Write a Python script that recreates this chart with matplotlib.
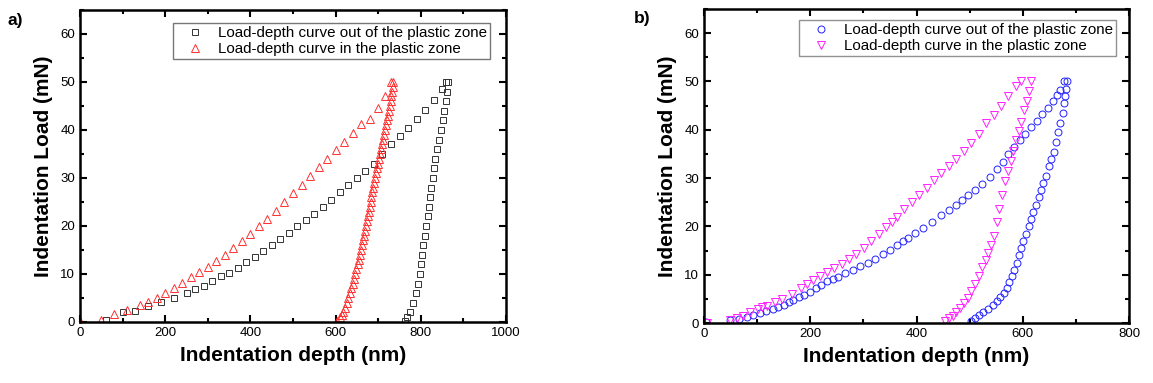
import matplotlib
matplotlib.use("Agg")
import matplotlib.pyplot as plt
from matplotlib.ticker import MultipleLocator

plt.rcParams['font.family'] = ['Liberation Sans', 'DejaVu Sans']

labels = ["Load-depth curve out of the plastic zone", "Load-depth curve in the plastic zone"]

# panel a) - out of plastic zone (black squares)
a_out_load_x = [60, 100, 130, 160, 190, 220, 250, 270, 290, 310, 330, 350, 370, 390, 410, 430, 450, 470,
                490, 510, 530, 550, 570, 590, 610, 630, 650, 670, 690, 710, 730, 750, 770, 790, 810, 830, 850, 860]
a_out_load_y = [0.5, 2, 2.2, 3.3, 4.2, 5, 6, 6.8, 7.6, 8.5, 9.5, 10.3, 11.3, 12.5, 13.6, 14.8, 16, 17.2,
                18.5, 20, 21.3, 22.6, 24, 25.5, 27, 28.5, 30, 31.5, 33, 35, 37, 38.8, 40.5, 42.3, 44.2, 46.2, 48.5, 50]
a_out_unl_x = [865, 862, 858, 854, 851, 848, 843, 838, 834, 831, 828, 825, 822, 819, 816, 813, 809, 806,
               803, 800, 797, 793, 788, 782, 775, 768, 763]
a_out_unl_y = [50, 48, 46, 44, 42, 40, 38, 36, 34, 32, 30, 28, 26, 24, 22, 20, 18, 16,
               14, 12, 10, 8, 6, 4, 2, 1, 0.3]

# panel a) - in plastic zone (red triangles)
a_in_load_x = [0, 50, 80, 110, 140, 160, 180, 200, 220, 240, 260, 280, 300, 320, 340, 360, 380, 400,
               420, 440, 460, 480, 500, 520, 540, 560, 580, 600, 620, 640, 660, 680, 700, 715, 730]
a_in_load_y = [0.3, 0.5, 1.6, 2.5, 3.5, 4.2, 5, 6, 7, 8.2, 9.3, 10.4, 11.5, 12.8, 14, 15.4, 16.9, 18.4,
               19.9, 21.5, 23.2, 25, 26.8, 28.6, 30.4, 32.2, 34, 35.8, 37.6, 39.4, 41.2, 42.3, 44.5, 47, 50]
a_in_unl_x = [735, 734, 733, 731, 730, 728, 726, 723, 720, 718, 715, 713, 711, 708, 706, 704, 702, 699,
              697, 694, 692, 690, 688, 686, 684, 682, 680, 678, 676, 674, 672, 670, 667, 665, 662, 660,
              657, 655, 652, 649, 646, 643, 640, 637, 634, 630, 627, 622, 618, 614, 610, 604]
a_in_unl_y = [50, 49, 48, 47, 46, 45, 44, 43, 42, 41, 40, 39, 38, 37, 36, 35, 34, 33,
              32, 31, 30, 29, 28, 27, 26, 25, 24, 23, 22, 21, 20, 19, 18, 17, 16, 15,
              14, 13, 12, 11, 10, 9, 8, 7, 6, 5, 4, 3, 2, 1.5, 1, 0.3]

# panel b) - out of plastic zone (blue circles)
b_out_load_x = [3, 49, 65, 80, 93, 105, 117, 129, 140, 150, 160, 168, 179, 189, 200, 210, 221, 231, 242,
                252, 266, 280, 294, 308, 322, 336, 350, 363, 374, 384, 398, 412, 430, 447, 461, 475, 486,
                496, 510, 524, 538, 552, 563, 573, 584, 594, 605, 615, 626, 636, 647, 657, 664, 671, 678]
b_out_load_y = [0.3, 0.6, 0.9, 1.2, 1.6, 2.1, 2.5, 3, 3.4, 3.8, 4.3, 4.8, 5.3, 5.8, 6.5, 7.2, 7.9, 8.6, 9.1,
                9.6, 10.3, 11, 11.7, 12.4, 13.3, 14.2, 15.2, 16.2, 16.9, 17.6, 18.6, 19.7, 21, 22.4, 23.4, 24.5, 25.4,
                26.4, 27.5, 28.7, 30.2, 31.9, 33.4, 35, 36.4, 37.8, 39.1, 40.5, 41.9, 43.3, 44.6, 46, 47.1, 48.3, 50]
b_out_unl_x = [683, 682, 680, 678, 675, 671, 667, 663, 658, 653, 649, 644, 639, 635, 630, 625, 620, 616,
               611, 606, 601, 597, 593, 589, 584, 580, 575, 570, 564, 558, 552, 544, 535, 526, 517, 510, 503]
b_out_unl_y = [50, 48.5, 47, 45.5, 43.5, 41.5, 39.5, 37.5, 35.5, 34, 32.5, 30.5, 29, 27.5, 26, 24.5, 23, 21.5,
               20, 18.5, 17, 15.5, 14, 12.5, 11, 9.8, 8.5, 7.3, 6.3, 5.4, 4.6, 3.7, 2.8, 2.2, 1.7, 1.1, 0.4]

# panel b) - in plastic zone (magenta down triangles)
b_in_load_x = [5, 49, 62, 73, 87, 101, 110, 119, 133, 147, 165, 182, 194, 206, 219, 231, 245, 259, 273,
               287, 301, 315, 329, 343, 353, 363, 377, 391, 405, 419, 433, 447, 461, 475, 489, 503, 517,
               531, 545, 559, 573, 587, 597]
b_in_load_y = [0, 0.6, 1.1, 1.5, 2.2, 3, 3.3, 3.6, 4.3, 5, 6.1, 7.3, 8.1, 9, 9.8, 10.5, 11.4, 12.2, 13.2,
               14.2, 15.6, 17, 18.4, 19.8, 20.9, 22, 23.5, 25, 26.5, 28, 29.5, 31, 32.5, 34, 35.6, 37.2, 39.2,
               41.3, 43.1, 45, 47, 49, 50]
b_in_unl_x = [615, 612, 608, 603, 597, 592, 587, 582, 577, 572, 566, 561, 556, 551, 545, 540, 535, 530,
              524, 517, 510, 503, 496, 489, 482, 475, 468, 461, 454]
b_in_unl_y = [50, 48, 46, 44, 41.7, 39.8, 37.8, 35.6, 33.5, 31.5, 29.4, 26.5, 23.7, 21, 18, 16.2, 14.4, 13,
              11.5, 9.8, 8, 6.6, 5.2, 4.2, 3.2, 2.3, 1.5, 1, 0.5]

W, H = 1153, 383
fig = plt.figure(figsize=(W / 100, H / 100), dpi=100)


def make_axes(l, r, t, b, xmax):
    ax = fig.add_axes([l / W, 1 - b / H, (r - l) / W, (b - t) / H])
    ax.set_xlim(0, xmax)
    ax.set_ylim(0, 65)
    ax.xaxis.set_major_locator(MultipleLocator(200))
    ax.xaxis.set_minor_locator(MultipleLocator(100))
    ax.yaxis.set_major_locator(MultipleLocator(10))
    ax.yaxis.set_minor_locator(MultipleLocator(5))
    ax.tick_params(which='both', direction='in', top=True, right=True, labelsize=9.5, width=1.5)
    ax.tick_params(which='major', length=5)
    ax.tick_params(which='minor', length=3)
    for s in ax.spines.values():
        s.set_linewidth(1.8)
    ax.set_xlabel("Indentation depth (nm)", fontsize=15, fontweight='bold', labelpad=5)
    ax.set_ylabel("Indentation Load (mN)", fontsize=15, fontweight='bold', labelpad=5)
    return ax


def draw(ax, xs, ys, marker, color, ms, label):
    kw = dict(ls='none', marker=marker, mfc='none', mec=color, mew=0.7, ms=ms)
    ax.plot(xs[0], ys[0], label=label, **kw)
    ax.plot(xs[1], ys[1], **kw)


def add_legend(ax, right, top, edge):
    ax.legend(loc='upper right', bbox_to_anchor=(right / W, 1 - top / H), bbox_transform=fig.transFigure,
              borderaxespad=0, fontsize=10.9, frameon=True, fancybox=False, edgecolor=edge,
              handletextpad=0.35, borderpad=0.2, labelspacing=0.15, handlelength=2.4)


ax1 = make_axes(80, 506, 10, 322, 1000)
draw(ax1, (a_out_load_x, a_out_unl_x), (a_out_load_y, a_out_unl_y), 's', '#333333', 5, labels[0])
draw(ax1, (a_in_load_x, a_in_unl_x), (a_in_load_y, a_in_unl_y), '^', '#ff3030', 5.5, labels[1])
add_legend(ax1, 490, 23, '#555555')
fig.text(8 / W, 1 - 21 / H, "a)", fontsize=12.5, fontweight='bold', va='center')

ax2 = make_axes(704, 1129, 9, 323, 800)
draw(ax2, (b_out_load_x, b_out_unl_x), (b_out_load_y, b_out_unl_y), 'o', '#2020ff', 5, labels[0])
draw(ax2, (b_in_load_x, b_in_unl_x), (b_in_load_y, b_in_unl_y), 'v', '#ff20ff', 5.5, labels[1])
add_legend(ax2, 1116, 20, '#777777')
fig.text(634 / W, 1 - 19 / H, "b)", fontsize=12.5, fontweight='bold', va='center')

fig.savefig("out.png", dpi=100)
